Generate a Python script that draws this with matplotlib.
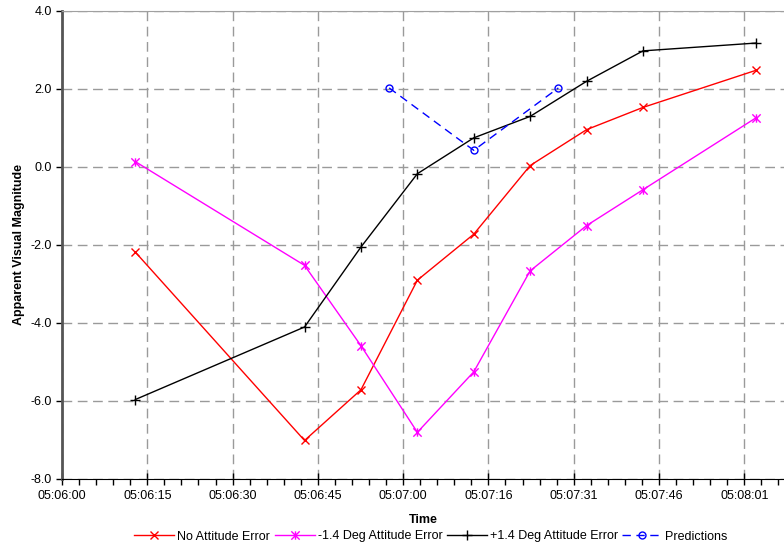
import numpy as np
import matplotlib.pyplot as plt
from matplotlib.path import Path
from matplotlib.ticker import MultipleLocator, FuncFormatter

plt.rcParams['font.family'] = ['Liberation Sans', 'DejaVu Sans']
plt.rcParams['axes.unicode_minus'] = False

# Observation times (hh:mm:ss) and magnitudes
obs_times = ["05:06:13", "05:06:43", "05:06:53", "05:07:03", "05:07:13",
             "05:07:23", "05:07:33", "05:07:43", "05:08:03"]
no_error = [-2.19, -7.02, -5.72, -2.91, -1.73, 0.03, 0.95, 1.52, 2.47]
minus_14 = [0.13, -2.53, -4.59, -6.81, -5.26, -2.67, -1.51, -0.59, 1.25]
plus_14 = [-5.97, -4.11, -2.06, -0.18, 0.74, 1.29, 2.19, 2.97, 3.17]

pred_times = ["05:06:58", "05:07:13", "05:07:28"]
predictions = [2.02, 0.42, 2.02]

# Axis settings (Excel-style major unit of 0.000175 day)
t0 = 5 * 3600 + 6 * 60
major_step = 15.12
x_max = 128


def to_sec(s):
    h, m, sec = [int(v) for v in s.split(":")]
    return h * 3600 + m * 60 + sec - t0


def fmt_time(x, pos):
    tot = int(round(t0 + x))
    return "%02d:%02d:%02d" % (tot // 3600, (tot // 60) % 60, tot % 60)


x_obs = np.array([to_sec(s) for s in obs_times])
x_pred = np.array([to_sec(s) for s in pred_times])

# Excel "star" marker: an X with a vertical bar
star = Path([(-1, -1), (1, 1), (-1, 1), (1, -1), (0, -1), (0, 1)],
            [Path.MOVETO, Path.LINETO] * 3)

fig = plt.figure(figsize=(7.84, 5.46), dpi=100)
ax = fig.add_axes([62 / 784, 67.3 / 546, 1 - 62 / 784, 468 / 546])

ax.plot(x_obs, no_error, color='red', lw=1.0, marker='x', ms=6, mew=1.0,
        label='No Attitude Error')
ax.plot(x_obs, minus_14, color='magenta', lw=1.0, marker=star, ms=6, mew=1.0,
        label='-1.4 Deg Attitude Error')
ax.plot(x_obs, plus_14, color='black', lw=1.0, marker='+', ms=7, mew=1.0,
        label='+1.4 Deg Attitude Error')
ax.plot(x_pred, predictions, color='blue', lw=1.0, ls=(0, (6, 4)), marker='o', ms=5,
        mfc='none', mew=1.0, label='Predictions')

ax.set_xlim(0, x_max)
ax.set_ylim(-8, 4)
ax.xaxis.set_major_locator(MultipleLocator(major_step))
ax.xaxis.set_minor_locator(MultipleLocator(major_step / 5))
ax.xaxis.set_major_formatter(FuncFormatter(fmt_time))
ax.yaxis.set_major_locator(MultipleLocator(2))
ax.yaxis.set_major_formatter(FuncFormatter(lambda v, p: "%.1f" % v))

ax.grid(True, which='major', color='#9a9a9a', ls=(0, (7, 4)), lw=1.0)
ax.tick_params(axis='x', which='major', direction='inout', length=8, width=1,
               labelsize=9, pad=4)
ax.tick_params(axis='x', which='minor', direction='out', length=4, width=1)
ax.tick_params(axis='y', direction='out', length=4, width=1, labelsize=9)

ax.spines['right'].set_visible(False)
ax.spines['top'].set_color('#a0a0a0')
ax.spines['left'].set_color('#555555')
ax.spines['left'].set_linewidth(2)
ax.spines['bottom'].set_color('black')

ax.set_xlabel('Time', fontweight='bold', fontsize=9, labelpad=9)
ax.set_ylabel('Apparent Visual Magnitude', fontweight='bold', fontsize=9, labelpad=4)

fig.legend(loc='lower center', bbox_to_anchor=(431 / 784, 1 / 546), ncol=4, frameon=False,
           fontsize=9, handlelength=3.2, handletextpad=0.25, columnspacing=0.35,
           borderaxespad=0, borderpad=0.2)

fig.savefig('out.png', dpi=100)
